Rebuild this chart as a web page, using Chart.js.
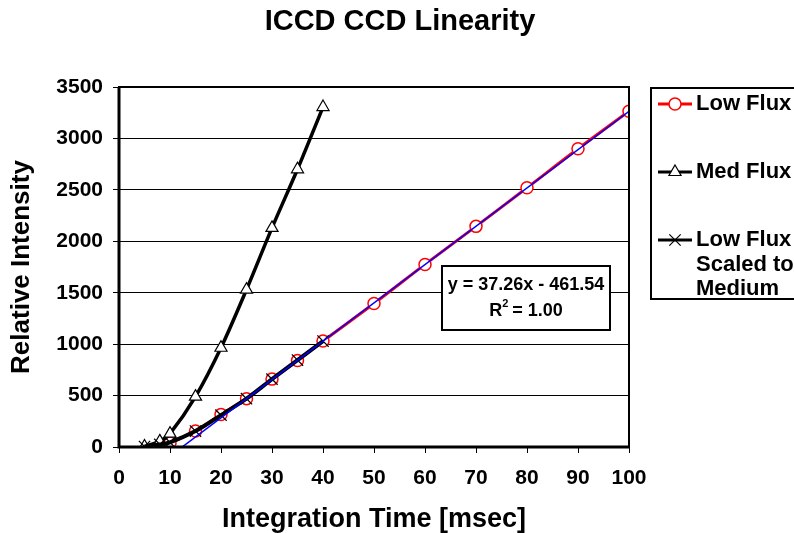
<!DOCTYPE html>
<html>
<head>
<meta charset="utf-8">
<title>ICCD CCD Linearity</title>
<script src="https://cdn.jsdelivr.net/npm/chart.js@4.4.1/dist/chart.umd.min.js"></script>
<style>
  html, body { margin: 0; padding: 0; background: #fff; }
  #wrap { width: 794px; height: 533px; }
</style>
</head>
<body>
<div id="wrap"><canvas id="linearityChart" width="794" height="533"></canvas></div>
<script>
// Integration times [msec] and measured intensities
const lowFluxTime = [10, 15, 20, 25, 30, 35, 40, 50, 60, 70, 80, 90, 100];
const lowFlux = [40, 155, 315, 470, 660, 840, 1030, 1395, 1775, 2145, 2520, 2900, 3265];

const medFluxTime = [5, 8, 10, 15, 20, 25, 30, 35, 40];
const medFlux = [5, 55, 130, 490, 965, 1530, 2130, 2700, 3305];

const scaledTime = [5, 8, 10, 15, 20, 25, 30, 35, 40];
const scaledFlux = [5, 25, 45, 155, 310, 470, 660, 845, 1030];

// Linear fit of the low flux series
const trendSlope = 37.26;
const trendIntercept = -461.54;
const trendRSquared = 1.00;
const trendTime = [10, 100];

const xTicks = [0, 10, 20, 30, 40, 50, 60, 70, 80, 90, 100];
const yTicks = [0, 500, 1000, 1500, 2000, 2500, 3000, 3500];

const chartTitle = 'ICCD CCD Linearity';
const FONT = "'Liberation Sans', Arial, sans-serif";

const toPoints = (xs, ys) => xs.map((x, i) => ({ x: x, y: ys[i] }));

// title, frame round the plot, equation box and the clipped legend box
const decorations = {
  id: 'decorations',
  afterDatasetsDraw(chart) {
    const { ctx, chartArea: a } = chart;
    ctx.save();
    ctx.strokeStyle = '#000';
    ctx.lineWidth = 2;
    ctx.strokeRect(a.left, a.top, a.right - a.left, a.bottom - a.top);
    ctx.lineWidth = 3;
    ctx.beginPath();
    ctx.moveTo(a.left, a.top);
    ctx.lineTo(a.left, a.bottom);
    ctx.lineTo(a.right, a.bottom);
    ctx.stroke();

    ctx.fillStyle = '#000';
    ctx.font = 'bold 29px ' + FONT;
    ctx.textAlign = 'center';
    ctx.textBaseline = 'middle';
    ctx.fillText(chartTitle, 400, 22);

    // equation label
    ctx.fillStyle = '#fff';
    ctx.fillRect(442, 266, 168, 64);
    ctx.lineWidth = 2;
    ctx.strokeRect(442, 266, 168, 64);
    ctx.fillStyle = '#000';
    ctx.font = 'bold 18px ' + FONT;
    const eq = 'y = ' + trendSlope.toFixed(2) + 'x - ' + Math.abs(trendIntercept).toFixed(2);
    ctx.fillText(eq, 526, 285);
    const r = 'R  = ' + trendRSquared.toFixed(2);
    ctx.fillText(r, 526, 311);
    const rw = ctx.measureText(r).width;
    ctx.font = 'bold 11px ' + FONT;
    ctx.textAlign = 'left';
    ctx.fillText('2', 526 - rw / 2 + 13, 304);
    ctx.restore();
    drawLegend(chart);
  }
};

function drawLegend(chart) {
  const { ctx } = chart;
  const box = { left: 651, top: 88, right: 800, bottom: 299 };
  ctx.save();
  ctx.beginPath();
  ctx.rect(box.left, box.top, box.right - box.left, box.bottom - box.top);
  ctx.clip();
  ctx.fillStyle = '#fff';
  ctx.fillRect(box.left, box.top, box.right - box.left, box.bottom - box.top);

  const items = [
    { ds: 0, y: 104, lines: ['Low Flux'] },
    { ds: 1, y: 172, lines: ['Med Flux'] },
    { ds: 2, y: 240, lines: ['Low Flux', 'Scaled to', 'Medium', 'Gain'] }
  ];
  items.forEach(item => {
    const d = chart.data.datasets[item.ds];
    ctx.strokeStyle = d.borderColor;
    ctx.lineWidth = 3;
    ctx.beginPath();
    ctx.moveTo(658, item.y);
    ctx.lineTo(692, item.y);
    ctx.stroke();
    ctx.fillStyle = d.pointBackgroundColor;
    ctx.strokeStyle = d.pointBorderColor;
    ctx.lineWidth = d.pointBorderWidth;
    Chart.helpers.drawPoint(ctx, {
      pointStyle: d.pointStyle,
      radius: d.pointRadius,
      borderWidth: d.pointBorderWidth
    }, 675, item.y);
    ctx.fillStyle = '#000';
    ctx.font = 'bold 22px ' + FONT;
    ctx.textAlign = 'left';
    ctx.textBaseline = 'middle';
    item.lines.forEach((t, i) => ctx.fillText(t, 696, item.y + i * 24.5));
  });
  ctx.restore();

  ctx.save();
  ctx.strokeStyle = '#000';
  ctx.lineWidth = 2;
  ctx.strokeRect(box.left, box.top, box.right - box.left, box.bottom - box.top);
  ctx.restore();
}

const ctx = document.getElementById('linearityChart').getContext('2d');
new Chart(ctx, {
  type: 'line',
  data: {
    datasets: [
      {
        label: 'Low Flux',
        data: toPoints(lowFluxTime, lowFlux),
        borderColor: '#ff0000',
        borderWidth: 3,
        tension: 0.3,
        pointStyle: 'circle',
        pointRadius: 6,
        pointBorderWidth: 1.5,
        pointBorderColor: '#ff0000',
        pointBackgroundColor: '#ffffff',
        order: 3
      },
      {
        label: 'Med Flux',
        data: toPoints(medFluxTime, medFlux),
        borderColor: '#000000',
        borderWidth: 3.5,
        tension: 0.3,
        pointStyle: 'triangle',
        pointRadius: 7,
        pointBorderWidth: 1.2,
        pointBorderColor: '#000000',
        pointBackgroundColor: '#ffffff',
        order: 2
      },
      {
        label: 'Low Flux Scaled to Medium Gain',
        data: toPoints(scaledTime, scaledFlux),
        borderColor: '#000000',
        borderWidth: 4,
        tension: 0.3,
        pointStyle: 'crossRot',
        pointRadius: 8,
        pointBorderWidth: 1.2,
        pointBorderColor: '#000000',
        pointBackgroundColor: '#000000',
        order: 1
      },
      {
        label: 'Linear (Low Flux)',
        data: trendTime.map(x => ({ x: x, y: trendSlope * x + trendIntercept })),
        borderColor: '#0000ff',
        borderWidth: 1.5,
        pointRadius: 0,
        tension: 0,
        order: 0
      }
    ]
  },
  options: {
    responsive: false,
    animation: false,
    events: [],
    layout: { padding: { top: 87, left: 0, right: 165, bottom: 0 } },
    plugins: {
      legend: { display: false },
      tooltip: { enabled: false },
      title: { display: false }
    },
    scales: {
      x: {
        type: 'linear',
        min: 0,
        max: 100,
        afterBuildTicks: s => { s.ticks = xTicks.map(v => ({ value: v })); },
        afterFit: s => { s.height = 86; },
        ticks: {
          color: '#000',
          font: { family: FONT, size: 21, weight: 'bold' },
          padding: 13,
          maxRotation: 0,
          callback: v => String(v)
        },
        grid: {
          drawOnChartArea: false,
          drawTicks: true,
          tickLength: 6,
          color: '#000',
          lineWidth: 1
        },
        border: { display: false },
        title: {
          display: true,
          text: 'Integration Time [msec]',
          color: '#000',
          font: { family: FONT, size: 27, weight: 'bold', lineHeight: 1.2 },
          padding: { top: 0, bottom: -3 }
        }
      },
      y: {
        type: 'linear',
        min: 0,
        max: 3500,
        afterBuildTicks: s => { s.ticks = yTicks.map(v => ({ value: v })); },
        afterFit: s => { s.width = 119; },
        ticks: {
          color: '#000',
          font: { family: FONT, size: 21, weight: 'bold' },
          padding: 10,
          callback: v => String(v)
        },
        grid: {
          color: '#000',
          lineWidth: 1,
          tickLength: 6
        },
        border: { display: false },
        title: {
          display: true,
          text: 'Relative Intensity',
          color: '#000',
          font: { family: FONT, size: 26, weight: 'bold', lineHeight: 1.2 },
          padding: { top: 6, bottom: 0 }
        }
      }
    }
  },
  plugins: [decorations]
});
</script>
</body>
</html>
